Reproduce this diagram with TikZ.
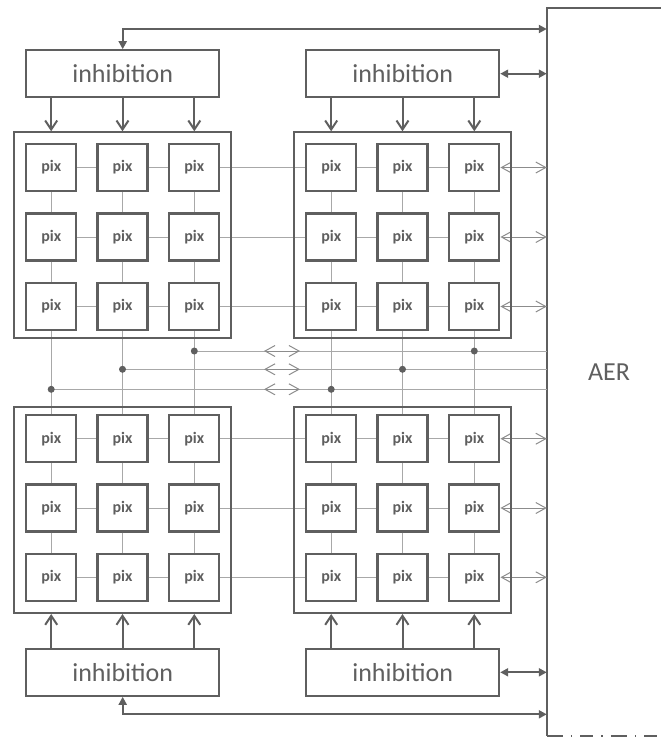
\documentclass[tikz,border=0pt]{standalone}
\usepackage{fontspec}
\setmainfont{Carlito}
\usetikzlibrary{arrows.meta,positioning,calc}
\definecolor{Ink}{HTML}{5F5F5F}
\definecolor{Wire}{HTML}{A8A8A8}
\definecolor{Barb}{HTML}{8C8C8C}
\tikzset{
 inhib/.style={draw=Ink, line width=2pt, minimum width=193pt, minimum height=47pt, inner sep=0pt, text=Ink, font=\fontsize{26}{30}\selectfont},
 array/.style={draw=Ink, line width=2pt, minimum width=217pt, minimum height=206pt, inner sep=0pt},
 pix/.style={draw=Ink, line width=2.3pt, minimum width=50pt, minimum height=47pt, inner sep=0pt, text=Ink, font=\fontsize{16}{18}\selectfont\bfseries},
 wire/.style={draw=Wire, line width=1pt},
 busarrow/.style={draw=Barb, line width=1pt, {Straight Barb[length=10pt,width=11pt]}-{Straight Barb[length=10pt,width=11pt]}},
 ctrl/.style={draw=Ink, line width=2pt, -{Straight Barb[length=9pt,width=12pt]}},
 aerlink/.style={draw=Ink, line width=2pt, {Triangle[length=8pt,width=8pt]}-{Triangle[length=8pt,width=8pt]}},
 edge/.style={draw=Ink, line width=2pt}
}
\begin{document}
\begin{tikzpicture}[x=1pt,y=-1pt]
\useasboundingbox (0,0) rectangle (661,740);
\clip (0,0) rectangle (661,740);
% AER block, its right side runs off the page
\node[minimum width=124pt, minimum height=728pt, inner sep=0pt, text=Ink, font=\fontsize{26}{30}\selectfont] (aer) at (609,372) {AER};
\draw[edge] (aer.north east) -- (aer.north west) -- (aer.south west);
\draw[edge, dash pattern=on 16pt off 8pt on 1.5pt off 8pt on 13pt off 8pt on 1.5pt off 8pt] (aer.south west) -- (aer.south east);
% inhibition blocks
\node[inhib] (itl) at (122.7,73.7) {inhibition};
\node[inhib] (itr) at (402.7,73.7) {inhibition};
\node[inhib] (ibl) at (122.7,672.3) {inhibition};
\node[inhib] (ibr) at (402.7,672.3) {inhibition};
% pixels, 6x6
\foreach \r/\y in {1/167.5,2/237,3/306.5,4/438.7,5/508,6/577.3}
 \foreach \c/\x in {1/51.2,2/122.5,3/194.3,4/331.2,5/402.5,6/474.3}
  \node[pix] (p\r\c) at (\x,\y) {pix};
% row and column wires
\foreach \r in {1,...,6} {
 \foreach \a/\b in {1/2,2/3,3/4,4/5,5/6}
  \draw[wire] (p\r\a.east) -- (p\r\b.west);
 \draw[busarrow] (p\r6.east) -- (p\r6.east -| aer.west);
}
\foreach \c in {1,...,6}
 \foreach \a/\b in {1/2,2/3,3/4,4/5,5/6}
  \draw[wire] (p\a\c.south) -- (p\b\c.north);
% pixel arrays
\node[array] (atl) at (122.3,235.3) {};
\node[array] (atr) at (402,235.3) {};
\node[array] (abl) at (122.3,510) {};
\node[array] (abr) at (402,510) {};
% shared buses
\coordinate (bus1) at (194.3,351);
\coordinate (bus2) at (122.5,369.3);
\coordinate (bus3) at (51.2,389.3);
\coordinate (gl) at (264,0);
\coordinate (gr) at (300,0);
\foreach \b/\c in {bus1/6,bus2/5,bus3/4} {
 \draw[wire] (\b) -- (\b -| aer.west);
 \draw[busarrow] (\b -| gl) -- (\b -| gr);
 \fill[Ink] (\b) circle (3.5pt) (\b -| p1\c) circle (3.5pt);
}
% inhibition to arrays
\foreach \c in {1,2,3} {
 \draw[ctrl] (itl.south -| p1\c) -- (atl.north -| p1\c);
 \draw[ctrl] (ibl.north -| p6\c) -- (abl.south -| p6\c);
}
\foreach \c in {4,5,6} {
 \draw[ctrl] (itr.south -| p1\c) -- (atr.north -| p1\c);
 \draw[ctrl] (ibr.north -| p6\c) -- (abr.south -| p6\c);
}
% links to AER
\coordinate (ttop) at (0,29);
\coordinate (tbot) at (0,714.3);
\draw[aerlink] (itl.north) |- (ttop -| aer.west);
\draw[aerlink] (ibl.south) |- (tbot -| aer.west);
\draw[aerlink] (itr.east) -- (itr.east -| aer.west);
\draw[aerlink] (ibr.east) -- (ibr.east -| aer.west);
\end{tikzpicture}
\end{document}
